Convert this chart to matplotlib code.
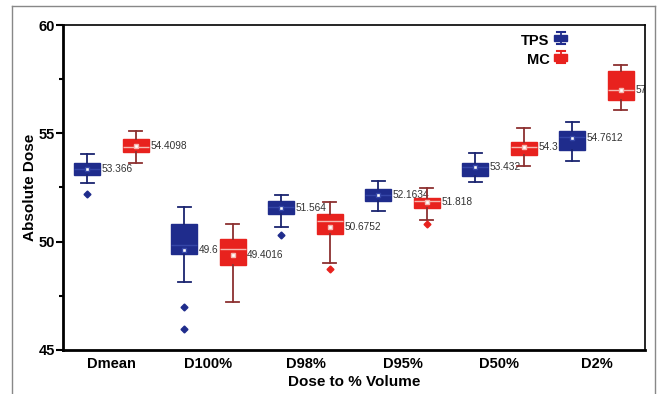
import matplotlib
matplotlib.use("Agg")
import matplotlib.pyplot as plt
from matplotlib.patches import Patch, Rectangle
from matplotlib.lines import Line2D
from matplotlib.legend_handler import HandlerBase

plt.rcParams['font.family'] = ['Liberation Sans', 'DejaVu Sans']

categories = ['Dmean', 'D100%', 'D98%', 'D95%', 'D50%', 'D2%']

# box stats: whisker low, q1, median, q3, whisker high
tps_whislo = [52.71, 48.15, 50.68, 51.42, 52.75, 53.74]
tps_q1 = [53.08, 49.43, 51.28, 51.88, 53.05, 54.23]
tps_med = [53.37, 49.85, 51.58, 52.16, 53.43, 54.82]
tps_q3 = [53.62, 50.80, 51.88, 52.45, 53.62, 55.12]
tps_whishi = [54.05, 51.58, 52.15, 52.80, 54.08, 55.51]
tps_mean = [53.366, 49.62, 51.564, 52.1634, 53.432, 54.7612]
tps_labels = ['53.366', '49.6', '51.564', '52.1634', '53.432', '54.7612']
tps_fliers = [[52.2], [46.97, 45.95], [50.29], [], [], []]

mc_whislo = [53.65, 47.20, 49.00, 51.00, 53.51, 56.08]
mc_q1 = [54.14, 48.92, 50.34, 51.54, 54.00, 56.54]
mc_med = [54.38, 49.65, 50.97, 51.88, 54.38, 57.00]
mc_q3 = [54.72, 50.11, 51.26, 52.03, 54.62, 57.88]
mc_whishi = [55.12, 50.80, 51.82, 52.46, 55.25, 58.15]
mc_mean = [54.4098, 49.4016, 50.6752, 51.818, 54.37, 57.0]
mc_labels = ['54.4098', '49.4016', '50.6752', '51.818', '54.3', '57']
mc_fliers = [[], [], [48.72], [50.82], [], []]

tps_color = '#1f2c8c'
tps_edge = '#1a2470'
mc_color = '#e8221e'
mc_edge = '#8c3030'


def make_stats(lo, q1, med, q3, hi, mean, fliers):
    stats = []
    for i in range(len(lo)):
        stats.append(dict(whislo=lo[i], q1=q1[i], med=med[i], q3=q3[i],
                          whishi=hi[i], mean=mean[i], fliers=fliers[i]))
    return stats


class BoxGlyph(HandlerBase):
    """little box-and-whisker glyph for the legend"""
    def create_artists(self, legend, orig, xd, yd, width, height, fontsize, trans):
        fc = orig.get_facecolor()
        cx = xd + width / 2
        cy = yd + height / 2
        box = Rectangle((xd, cy - height * 0.27), width, height * 0.54,
                        facecolor=fc, edgecolor=fc, transform=trans)
        arts = [box]
        for y0, y1 in [(cy + height * 0.27, cy + height * 0.5),
                       (cy - height * 0.27, cy - height * 0.5)]:
            arts.append(Line2D([cx, cx], [y0, y1], color=fc, lw=1.3, transform=trans))
            arts.append(Line2D([cx - width * 0.3, cx + width * 0.3], [y1, y1],
                               color=fc, lw=1.5, transform=trans))
        return arts


fig = plt.figure(figsize=(6.59, 3.94), dpi=100)
ax = fig.add_axes([0.0956, 0.112, 0.883, 0.8245])

pos = list(range(1, len(categories) + 1))
offset = 0.25
width = 0.27

groups = [
    (make_stats(tps_whislo, tps_q1, tps_med, tps_q3, tps_whishi, tps_mean, tps_fliers),
     -offset, tps_color, tps_edge, '#3546a8', tps_mean, tps_labels),
    (make_stats(mc_whislo, mc_q1, mc_med, mc_q3, mc_whishi, mc_mean, mc_fliers),
     offset, mc_color, mc_edge, '#f6b8b0', mc_mean, mc_labels),
]

for stats, off, fc, ec, medc, means, labels in groups:
    p = [x + off for x in pos]
    ax.bxp(stats, positions=p, widths=width, patch_artist=True,
           showmeans=True, manage_ticks=False,
           boxprops=dict(facecolor=fc, edgecolor=fc, linewidth=1),
           whiskerprops=dict(color=ec, linewidth=1.3),
           capprops=dict(color=ec, linewidth=1.3),
           medianprops=dict(color=medc, linewidth=1),
           meanprops=dict(marker='s', markerfacecolor='white',
                          markeredgecolor=medc, markersize=3),
           flierprops=dict(marker='D', markerfacecolor=fc, markeredgecolor=fc,
                           markersize=3.5),
           zorder=3)
    for x, m, t in zip(p, means, labels):
        ax.text(x + width / 2 + 0.015, m, t, fontsize=7.3, color='#333333',
                va='center', ha='left', zorder=2, clip_on=True)

ax.set_xlim(0.5, 6.5)
ax.set_ylim(45, 60)
ax.set_xticks(pos)
ax.set_xticklabels(categories, fontsize=10.5, fontweight='bold')
ax.set_yticks([45, 50, 55, 60])
ax.set_yticks([47.5, 52.5, 57.5], minor=True)
ax.tick_params(axis='y', labelsize=10.5, width=1.5, length=5, direction='out', pad=1)
ax.tick_params(axis='y', which='minor', width=1.5, length=3)
ax.tick_params(axis='x', length=0, pad=5)
for lab in ax.get_yticklabels():
    lab.set_fontweight('bold')
for side in ['left', 'bottom']:
    ax.spines[side].set_linewidth(2)
for side in ['top', 'right']:
    ax.spines[side].set_linewidth(1.2)

ax.set_xlabel('Dose to % Volume', fontsize=11, fontweight='bold', labelpad=3)
ax.set_ylabel('Absolute Dose', fontsize=11, fontweight='bold', labelpad=1)

handles = [Patch(facecolor=tps_color), Patch(facecolor=mc_color)]
ax.legend(handles, ['TPS', 'MC'], loc='upper left', bbox_to_anchor=(0.765, 1.013),
          frameon=False, markerfirst=False, handlelength=0.9,
          handleheight=0.9, handletextpad=0.3, labelspacing=0.37,
          handler_map={Patch: BoxGlyph()},
          prop=dict(weight='bold', size=10.5))

# thin frame round the picture
frame = dict(color='#888888', linewidth=1, transform=fig.transFigure)
fig.add_artist(Line2D([12 / 659, 12 / 659], [0, 1 - 6 / 394], **frame))
fig.add_artist(Line2D([12 / 659, 655 / 659], [1 - 6 / 394, 1 - 6 / 394], **frame))
fig.add_artist(Line2D([655 / 659, 655 / 659], [0, 1 - 6 / 394], **frame))

fig.savefig('out.png', dpi=100)
